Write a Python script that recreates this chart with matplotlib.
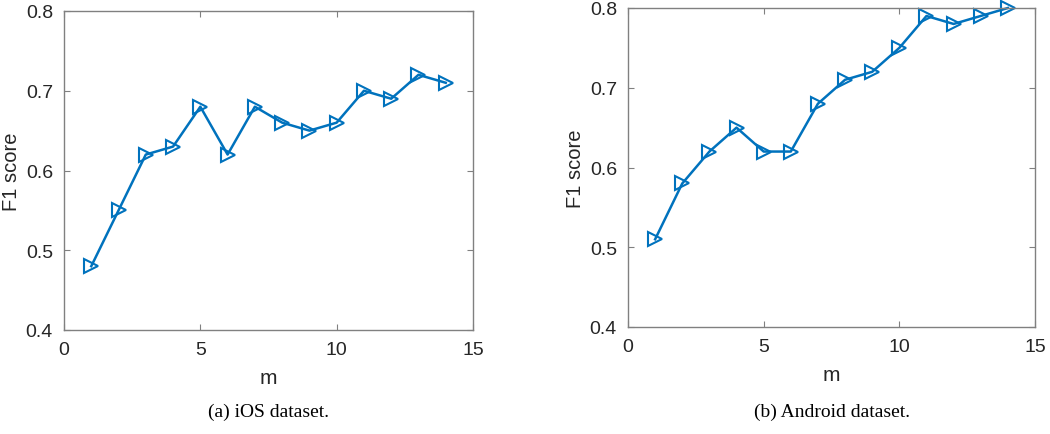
import matplotlib.pyplot as plt
import numpy as np

m = list(range(1, 15))
f1_ios = [0.48, 0.55, 0.62, 0.63, 0.68, 0.62, 0.68, 0.66, 0.65, 0.66, 0.70, 0.69, 0.72, 0.71]
f1_android = [0.51, 0.58, 0.62, 0.65, 0.62, 0.62, 0.68, 0.71, 0.72, 0.75, 0.79, 0.78, 0.79, 0.80]
captions = ['(a) iOS dataset.', '(b) Android dataset.']

blue = '#0072BD'
edge = '#808080'

fig = plt.figure(figsize=(10.5, 4.35), dpi=100)
W, H = 1050, 435
boxes = [(64, 12, 473, 331), (628, 9, 1035, 328)]

for (x0, y0, x1, y1), vals, cap in zip(boxes, [f1_ios, f1_android], captions):
    ax = fig.add_axes([x0 / W, 1 - y1 / H, (x1 - x0) / W, (y1 - y0) / H])
    ax.plot(m, vals, color=blue, linewidth=1.8, marker='>', markersize=10,
            fillstyle='none', markeredgewidth=1.5, clip_on=False)
    ax.set_xlim(0, 15)
    ax.set_ylim(0.4, 0.8)
    ax.set_xticks([0, 5, 10, 15])
    ax.set_yticks([0.4, 0.5, 0.6, 0.7, 0.8])
    ax.set_yticklabels(['0.4', '0.5', '0.6', '0.7', '0.8'])
    ax.tick_params(direction='in', top=True, right=True, length=4, width=0.8,
                   colors=edge, labelcolor='#262626', labelsize=14)
    ax.tick_params(axis='x', pad=8)
    ax.tick_params(axis='y', pad=8)
    for s in ax.spines.values():
        s.set_color(edge)
        s.set_linewidth(1.0)
    for lab in ax.get_xticklabels() + ax.get_yticklabels():
        lab.set_family('Liberation Sans')
    ax.set_xlabel('m', fontsize=15, family='Liberation Sans', color='#262626', labelpad=7)
    ax.set_ylabel('F1 score', fontsize=14.5, family='Liberation Sans', color='#262626', labelpad=3)
    fig.text((x0 + x1) / 2 / W, 1 - 412 / H, cap, ha='center', va='center',
             fontsize=14, family='Liberation Serif')

fig.savefig('out.png', dpi=100)
